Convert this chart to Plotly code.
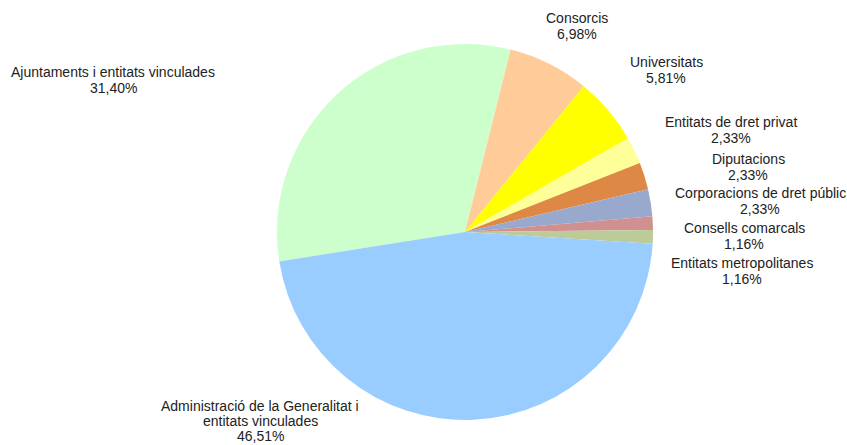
import plotly.graph_objects as go

labels = ["Ajuntaments i entitats vinculades", "Consorcis", "Universitats",
          "Entitats de dret privat", "Diputacions", "Corporacions de dret públic",
          "Consells comarcals", "Entitats metropolitanes",
          "Administració de la Generalitat i entitats vinculades"]
values = [31.40, 6.98, 5.81, 2.33, 2.33, 2.33, 1.16, 1.16, 46.51]
label_lines = [["Ajuntaments i entitats vinculades"], ["Consorcis"], ["Universitats"],
               ["Entitats de dret privat"], ["Diputacions"], ["Corporacions de dret públic"],
               ["Consells comarcals"], ["Entitats metropolitanes"],
               ["Administració de la Generalitat i", "entitats vinculades"]]
colors = ["#CCFFCC", "#FFCC99", "#FFFF00", "#FFFF99", "#DD8844", "#99A9CE",
          "#D09090", "#BBCC99", "#99CCFF"]
# label anchor positions (pixels: centre x, centre y of first line, line spacing)
label_pos = [(113, 72, 16), (577, 18, 16), (666, 62, 16), (731, 122, 16),
             (748, 159, 16), (760, 193, 16), (744, 228, 16), (742, 263, 16),
             (260, 406, 15)]

W, H = 847, 445
fig = go.Figure(go.Pie(
    labels=labels, values=values, sort=False, direction="clockwise",
    rotation=-99, marker=dict(colors=colors, line=dict(width=0)),
    textinfo="none", hoverinfo="label+percent",
    domain=dict(x=[277 / W, 653 / W], y=[(H - 420) / H, (H - 44) / H]),
    showlegend=False,
))

for lines, v, (px, py, ls) in zip(label_lines, values, label_pos):
    all_lines = lines + [f"{v:.2f}%".replace(".", ",")]
    for i, t in enumerate(all_lines):
        fig.add_annotation(
            x=px / W, y=1 - (py + i * ls) / H, xref="paper", yref="paper",
            text=t, showarrow=False, xanchor="center", yanchor="middle",
            font=dict(family="Liberation Sans, Arial", size=14, color="#222222"),
        )

fig.update_layout(width=W, height=H, margin=dict(l=0, r=0, t=0, b=0),
                  paper_bgcolor="white", plot_bgcolor="white")
fig.write_html("out.html", config={"displayModeBar": False},
               post_script="document.body.style.margin='0';")
